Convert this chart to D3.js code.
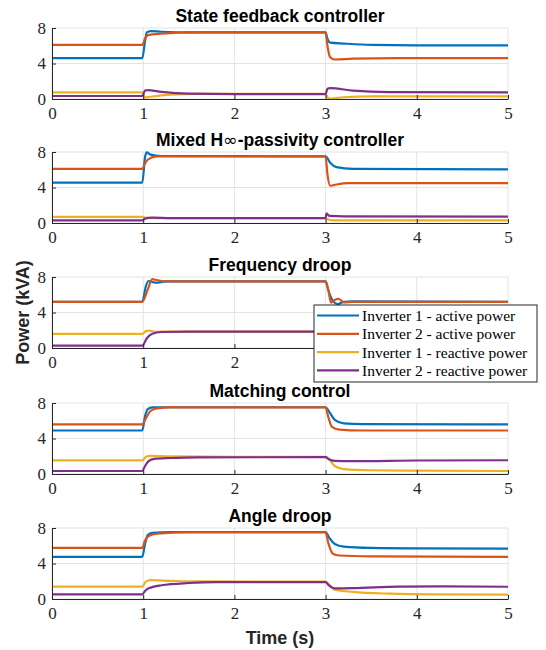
<!DOCTYPE html>
<html>
<head>
<meta charset="utf-8">
<script src="https://cdn.jsdelivr.net/npm/d3@7"></script>
<style>
  body { margin: 0; background: #fff; }
  svg { display: block; }
</style>
</head>
<body>
<div id="chart"></div>
<script>
var width = 546
var height = 650

var colors = ["#0072bd", "#d95319", "#edb120", "#7e2f8e"]
var seriesNames = ["Inverter 1 - active power", "Inverter 2 - active power",
                   "Inverter 1 - reactive power", "Inverter 2 - reactive power"]
var titles = ["State feedback controller", "Mixed H\u221e-passivity controller",
              "Frequency droop", "Matching control", "Angle droop"]
var xTicks = [0, 1, 2, 3, 4, 5]
var yTicks = [0, 4, 8]

// State feedback controller  [time (s), power (kVA)]
var sfP1 = [[0,4.6],[0.99,4.6],[1.02,6.5],[1.04,7.5],[1.08,7.65],[1.2,7.58],[1.5,7.5],[3.0,7.5],[3.02,6.8],[3.05,6.35],[3.2,6.25],[3.5,6.1],[4.0,6.05],[5,6.05]]
var sfP2 = [[0,6.1],[0.99,6.1],[1.02,6.8],[1.05,7.2],[1.2,7.35],[1.6,7.5],[3.0,7.5],[3.02,6.0],[3.05,4.7],[3.1,4.45],[3.3,4.55],[3.8,4.6],[5,4.6]]
var sfQ1 = [[0,0.75],[0.99,0.75],[1.02,0.15],[1.08,0.25],[1.3,0.5],[1.6,0.58],[3.0,0.58],[3.02,0.2],[3.05,0.03],[3.2,0.2],[3.5,0.3],[5,0.3]]
var sfQ2 = [[0,0.34],[0.99,0.34],[1.02,0.95],[1.05,1.0],[1.2,0.8],[1.5,0.6],[2,0.56],[3.0,0.56],[3.02,1.15],[3.05,1.22],[3.3,0.95],[3.7,0.78],[5,0.75]]

// Mixed H-infinity / passivity controller
var hiP1 = [[0,4.55],[0.99,4.55],[1.02,7.4],[1.04,7.95],[1.08,7.7],[1.2,7.55],[3.0,7.5],[3.05,6.8],[3.12,6.3],[3.3,6.1],[5,6.05]]
var hiP2 = [[0,6.1],[0.99,6.1],[1.02,6.7],[1.05,7.15],[1.15,7.5],[3.0,7.5],[3.02,5.5],[3.05,4.2],[3.1,4.3],[3.25,4.5],[5,4.5]]
var hiQ1 = [[0,0.7],[0.99,0.7],[1.02,0.6],[1.1,0.56],[3.0,0.56],[3.03,0.4],[3.1,0.3],[5,0.3]]
var hiQ2 = [[0,0.3],[0.99,0.3],[1.02,0.5],[1.1,0.6],[1.3,0.56],[3.0,0.56],[3.01,1.1],[3.04,0.8],[3.2,0.75],[5,0.72]]

// Frequency droop
var fdP1 = [[0,5.2],[0.99,5.2],[1.03,7.0],[1.06,7.55],[1.1,7.45],[1.14,7.35],[1.25,7.5],[3.0,7.5],[3.03,6.5],[3.08,5.3],[3.13,4.95],[3.2,5.2],[3.3,5.25],[5,5.2]]
var fdP2 = [[0,5.2],[0.99,5.2],[1.05,6.6],[1.1,7.75],[1.15,7.65],[1.25,7.5],[3.0,7.5],[3.03,6.5],[3.06,5.1],[3.1,5.4],[3.14,5.55],[3.2,5.15],[3.3,5.2],[5,5.2]]
var fdQ1 = [[0,1.6],[0.99,1.6],[1.03,1.9],[1.06,1.95],[1.15,1.82],[1.3,1.85],[3.0,1.85],[3.05,1.8],[3.2,1.65],[3.5,1.6],[5,1.6]]
var fdQ2 = [[0,0.26],[0.99,0.26],[1.04,1.1],[1.1,1.6],[1.2,1.8],[1.5,1.85],[3.0,1.85],[3.05,1.2],[3.15,0.4],[3.3,0.28],[5,0.26]]

// Matching control
var mcP1 = [[0,4.9],[0.99,4.9],[1.02,6.5],[1.05,7.3],[1.1,7.5],[1.2,7.52],[3.0,7.52],[3.04,7.0],[3.1,6.1],[3.2,5.7],[3.4,5.62],[5,5.6]]
var mcP2 = [[0,5.6],[0.99,5.6],[1.03,6.3],[1.08,7.1],[1.15,7.4],[1.3,7.5],[3.0,7.5],[3.03,6.4],[3.07,5.3],[3.15,5.0],[3.4,4.9],[5,4.9]]
var mcQ1 = [[0,1.53],[0.99,1.53],[1.03,1.95],[1.08,2.05],[1.3,1.98],[2,1.93],[3.0,1.93],[3.03,1.75],[3.1,0.9],[3.2,0.55],[3.5,0.42],[4,0.38],[5,0.34]]
var mcQ2 = [[0,0.34],[0.99,0.34],[1.02,0.9],[1.06,1.45],[1.12,1.7],[1.3,1.8],[1.6,1.88],[3.0,1.9],[3.03,1.7],[3.1,1.48],[3.3,1.45],[4,1.52],[5,1.55]]

// Angle droop
var adP1 = [[0,4.75],[0.99,4.75],[1.02,6.2],[1.05,7.2],[1.1,7.45],[1.3,7.55],[3.0,7.55],[3.04,6.9],[3.1,6.2],[3.2,5.9],[3.5,5.75],[4,5.7],[5,5.68]]
var adP2 = [[0,5.75],[0.99,5.75],[1.02,6.6],[1.06,7.1],[1.15,7.35],[1.5,7.5],[3.0,7.5],[3.03,6.3],[3.08,5.1],[3.15,4.9],[3.5,4.8],[5,4.75]]
var adQ1 = [[0,1.4],[0.99,1.4],[1.03,1.95],[1.08,2.12],[1.3,2.05],[1.6,1.98],[3.0,1.95],[3.03,1.7],[3.1,1.05],[3.3,0.8],[3.7,0.6],[4.2,0.52],[5,0.5]]
var adQ2 = [[0,0.52],[0.99,0.52],[1.02,0.9],[1.06,1.2],[1.2,1.55],[1.5,1.8],[1.8,1.9],[3.0,1.9],[3.03,1.6],[3.1,1.2],[3.3,1.22],[3.8,1.4],[4.3,1.42],[5,1.38]]

var panels = [
    [sfP1, sfP2, sfQ1, sfQ2],
    [hiP1, hiP2, hiQ1, hiQ2],
    [fdP1, fdP2, fdQ1, fdQ2],
    [mcP1, mcP2, mcQ1, mcQ2],
    [adP1, adP2, adQ1, adQ2]
]

// layout
var left = 52, right = 508
var tops = [28, 152, 277, 403, 528]
var plotH = 71
var legendX = 314, legendY = 305, legendW = 223, legendH = 77
var axisColor = "#262626"
var gridColor = "#e3e3e3"
var serif = "Liberation Serif, Times New Roman, serif"
var sans = "Liberation Sans, Arial, Helvetica, sans-serif"

var svg = d3.select("#chart").append("svg")
    .attr("width", width)
    .attr("height", height)

var x = d3.scaleLinear().domain([0, 5]).range([left, right])

panels.forEach(function(series, p) {
    var top = tops[p]
    var y = d3.scaleLinear().domain([0, 8]).range([top + plotH, top])
    var g = svg.append("g")

    // grid
    g.selectAll("line.gx")
        .data(xTicks)
        .enter().append("line")
        .attr("x1", function(d) { return x(d) })
        .attr("x2", function(d) { return x(d) })
        .attr("y1", y(0))
        .attr("y2", y(8))
        .attr("stroke", gridColor)
        .attr("stroke-width", 1)
    g.selectAll("line.gy")
        .data(yTicks)
        .enter().append("line")
        .attr("x1", x(0))
        .attr("x2", x(5))
        .attr("y1", function(d) { return y(d) })
        .attr("y2", function(d) { return y(d) })
        .attr("stroke", gridColor)
        .attr("stroke-width", 1)

    // curves
    var line = d3.line()
        .x(function(d) { return x(d[0]) })
        .y(function(d) { return y(d[1]) })
        .curve(d3.curveMonotoneX)
    g.selectAll("path.s")
        .data(series)
        .enter().append("path")
        .attr("d", line)
        .attr("fill", "none")
        .attr("stroke", function(d, i) { return colors[i] })
        .attr("stroke-width", 2.2)
        .attr("stroke-linejoin", "round")

    // axes
    var xAxis = d3.axisBottom(x).tickValues(xTicks).tickFormat(d3.format("d"))
        .tickSizeInner(-4).tickSizeOuter(0).tickPadding(8)
    var yAxis = d3.axisLeft(y).tickValues(yTicks).tickFormat(d3.format("d"))
        .tickSizeInner(-4).tickSizeOuter(0).tickPadding(6)
    var gx = g.append("g").attr("transform", "translate(0," + y(0) + ")").call(xAxis)
    var gy = g.append("g").attr("transform", "translate(" + left + ",0)").call(yAxis)
    ;[gx, gy].forEach(function(a) {
        a.attr("font-family", serif).attr("font-size", 17)
        a.select(".domain").attr("stroke", axisColor).attr("stroke-width", 1)
        a.selectAll(".tick line").attr("stroke", axisColor)
        a.selectAll("text").attr("fill", axisColor).style("font-family", serif)
    })
    // labels sitting under the legend box are hidden there
    gx.selectAll(".tick")
        .filter(function(d) { return x(d) > legendX && y(0) + 18 > legendY && y(0) < legendY + legendH })
        .select("text").remove()

    // title
    var t = g.append("text")
        .attr("x", (left + right) / 2)
        .attr("y", top - 6.5)
        .attr("text-anchor", "middle")
        .attr("fill", "#000")
        .style("font-family", sans)
        .style("font-weight", "bold")
        .style("font-size", "17.5px")
    var parts = titles[p].split("\u221e")
    t.append("tspan").text(parts[0])
    if (parts.length > 1) {
        t.append("tspan").text("\u221e").style("font-weight", "normal").style("font-family", "DejaVu Sans, sans-serif")
        t.append("tspan").text(parts[1])
    }
})

// axis labels
svg.append("text")
    .attr("transform", "translate(29," + (tops[2] + plotH / 2) + ") rotate(-90)")
    .attr("text-anchor", "middle")
    .attr("fill", axisColor)
    .style("font-family", sans)
    .style("font-weight", "bold")
    .style("font-size", "18px")
    .text("Power (kVA)")

svg.append("text")
    .attr("x", (left + right) / 2)
    .attr("y", 644)
    .attr("text-anchor", "middle")
    .attr("fill", axisColor)
    .style("font-family", sans)
    .style("font-weight", "bold")
    .style("font-size", "18px")
    .text("Time (s)")

// legend
var legend = svg.append("g").attr("transform", "translate(" + legendX + "," + legendY + ")")
legend.append("rect")
    .attr("width", legendW)
    .attr("height", legendH)
    .attr("fill", "#fff")
    .attr("stroke", axisColor)
    .attr("stroke-width", 1)
var items = legend.selectAll("g.item")
    .data(seriesNames)
    .enter().append("g")
    .attr("transform", function(d, i) { return "translate(0," + (10.5 + i * 18.3) + ")" })
items.append("line")
    .attr("x1", 3)
    .attr("x2", 45)
    .attr("stroke", function(d, i) { return colors[i] })
    .attr("stroke-width", 2.2)
items.append("text")
    .attr("x", 48)
    .attr("dy", "0.35em")
    .attr("fill", "#000")
    .style("font-family", serif)
    .style("font-size", "15.5px")
    .text(function(d) { return d })
</script>
</body>
</html>
